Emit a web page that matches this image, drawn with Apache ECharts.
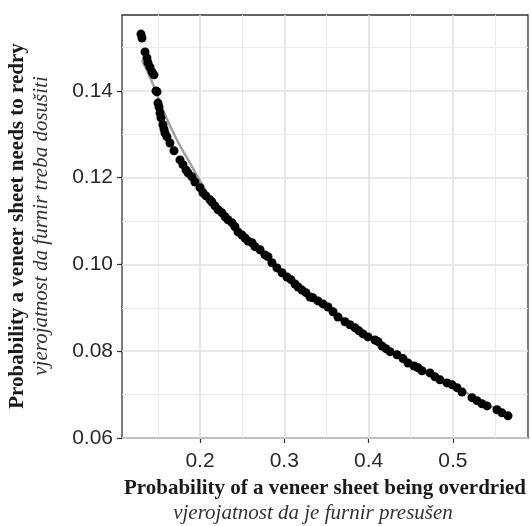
<!DOCTYPE html>
<html><head><meta charset="utf-8">
<script src="https://cdn.jsdelivr.net/npm/echarts@6/dist/echarts.min.js"></script>
<style>html,body{margin:0;padding:0;background:#fff}#c{width:531px;height:526px}</style>
</head><body><div id="c"></div>
<script>
const overdried = [0.1300,0.1312,0.1348,0.1371,0.1383,0.1407,0.1431,0.1454,0.1478,0.1490,0.1502,0.1514,0.1526,0.1537,0.1561,0.1573,0.1585,0.1609,0.1644,0.1692,0.1763,0.1798,0.1834,0.1858,0.1905,0.1941,0.2000,0.2036,0.2071,0.2119,0.2142,0.2178,0.2214,0.2261,0.2297,0.2332,0.2380,0.2415,0.2451,0.2498,0.2534,0.2569,0.2617,0.2652,0.2712,0.2771,0.2807,0.2854,0.2913,0.2973,0.3032,0.3079,0.3127,0.3163,0.3210,0.3257,0.3305,0.3340,0.3400,0.3459,0.3518,0.3578,0.3637,0.3720,0.3779,0.3839,0.3886,0.3934,0.3993,0.4076,0.4112,0.4159,0.4206,0.4254,0.4337,0.4408,0.4467,0.4539,0.4586,0.4633,0.4728,0.4788,0.4847,0.4930,0.4989,0.5049,0.5108,0.5227,0.5286,0.5345,0.5405,0.5523,0.5582,0.5654];
const redry = [0.1531,0.1522,0.1490,0.1476,0.1465,0.1455,0.1444,0.1437,0.1400,0.1398,0.1372,0.1363,0.1349,0.1338,0.1322,0.1312,0.1303,0.1294,0.1280,0.1262,0.1241,0.1230,0.1218,0.1211,0.1202,0.1190,0.1177,0.1165,0.1158,0.1149,0.1144,0.1135,0.1126,0.1119,0.1110,0.1103,0.1096,0.1087,0.1075,0.1068,0.1061,0.1054,0.1050,0.1041,0.1034,0.1022,0.1018,0.1004,0.0992,0.0981,0.0971,0.0965,0.0955,0.0948,0.0941,0.0935,0.0925,0.0923,0.0916,0.0909,0.0902,0.0891,0.0879,0.0868,0.0861,0.0854,0.0847,0.0840,0.0833,0.0826,0.0822,0.0812,0.0806,0.0799,0.0792,0.0783,0.0773,0.0766,0.0762,0.0755,0.0750,0.0741,0.0734,0.0727,0.0723,0.0716,0.0706,0.0693,0.0686,0.0679,0.0674,0.0665,0.0658,0.0651];
const fitX = [0.1312,0.1431,0.1561,0.1727,0.1881,0.2000,0.2200,0.2500,0.3000,0.3500,0.4000,0.4500,0.5000,0.5654];
const fitY = [0.1471,0.1421,0.1356,0.1287,0.1234,0.1193,0.1130,0.1064,0.0978,0.0905,0.0834,0.0772,0.0721,0.0651];
const xTicks = [0.2,0.3,0.4,0.5];
const yTicks = [0.06,0.08,0.10,0.12,0.14];
const xMinor = [0.15,0.25,0.35,0.45,0.55];
const yMinor = [0.07,0.09,0.11,0.13,0.15];
const xTitle = 'Probability of a veneer sheet being overdried';
const xSub = 'vjerojatnost da je furnir presušen';
const yTitle = 'Probability a veneer sheet needs to redry';
const ySub = 'vjerojatnost da furnir treba dosušiti';

const chart = echarts.init(document.getElementById('c'), null, {renderer:'canvas'});
const gridLines = [];
xMinor.forEach(v => gridLines.push({xAxis:v, lineStyle:{color:'#ebebeb', width:1, type:'solid'}}));
yMinor.forEach(v => gridLines.push({yAxis:v, lineStyle:{color:'#ebebeb', width:1, type:'solid'}}));
xTicks.forEach(v => gridLines.push({xAxis:v, lineStyle:{color:'#e0e0e0', width:1.6, type:'solid'}}));
yTicks.forEach(v => gridLines.push({yAxis:v, lineStyle:{color:'#e0e0e0', width:1.6, type:'solid'}}));

chart.setOption({
  animation:false,
  backgroundColor:'#fff',
  grid:{left:122, right:3, top:15, bottom:88, show:true, borderColor:'#333', borderWidth:1.3, backgroundColor:'#fff'},
  xAxis:{type:'value', min:0.1075, max:0.5891,
    axisLine:{show:false}, splitLine:{show:false},
    axisTick:{show:true, customValues:xTicks, length:5, lineStyle:{color:'#333', width:1.2}},
    axisLabel:{customValues:xTicks, margin:13, fontSize:21, color:'#2b2b2b', fontFamily:'Liberation Sans, Arial', formatter:v=>v.toFixed(1)}},
  yAxis:{type:'value', min:0.0600, max:0.1575,
    axisLine:{show:false}, splitLine:{show:false},
    axisTick:{show:true, customValues:yTicks, length:5, lineStyle:{color:'#333', width:1.2}},
    axisLabel:{customValues:yTicks, margin:9, fontSize:21, color:'#2b2b2b', fontFamily:'Liberation Sans, Arial', formatter:v=>v.toFixed(2)}},
  series:[
    {type:'scatter', data:[], z:1, silent:true,
     markLine:{silent:true, z:1, symbol:['none','none'], label:{show:false}, animation:false, lineStyle:{type:'solid'}, emphasis:{disabled:true}, data:gridLines}},
    {type:'line', data:fitX.map((x,i)=>[x,fitY[i]]), smooth:true, showSymbol:false, z:2,
     lineStyle:{color:'#a0a0a0', width:2.5}},
    {type:'scatter', data:overdried.map((x,i)=>[x,redry[i]]), symbolSize:9, z:3,
     itemStyle:{color:'#000', opacity:1}}
  ],
  graphic:[
    {type:'text', x:325, y:489, style:{text:xTitle, font:'bold 21px "Liberation Serif", "Times New Roman", serif', fill:'#1a1a1a', align:'center', verticalAlign:'middle'}},
    {type:'text', x:313, y:513, style:{text:xSub, font:'italic 21px "Liberation Serif", "Times New Roman", serif', fill:'#333', align:'center', verticalAlign:'middle'}},
    {type:'text', x:18, y:226, rotation:Math.PI/2, style:{text:yTitle, font:'bold 21px "Liberation Serif", "Times New Roman", serif', fill:'#1a1a1a', align:'center', verticalAlign:'middle'}},
    {type:'text', x:41, y:226, rotation:Math.PI/2, style:{text:ySub, font:'italic 21px "Liberation Serif", "Times New Roman", serif', fill:'#333', align:'center', verticalAlign:'middle'}}
  ]
});
</script></body></html>
